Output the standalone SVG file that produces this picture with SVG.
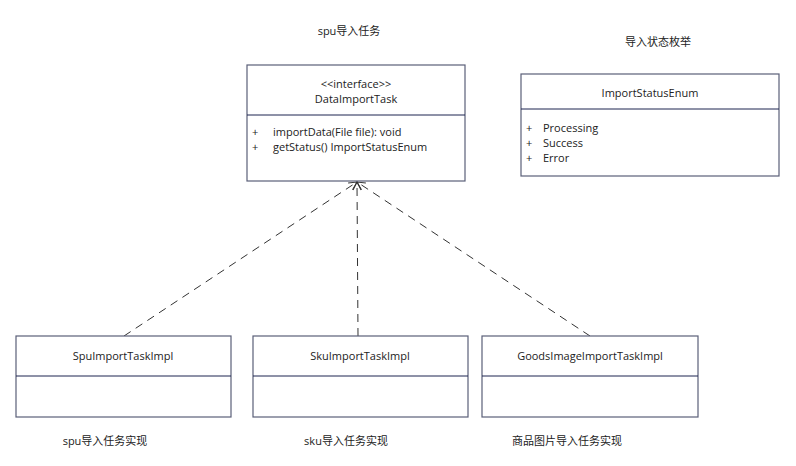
<svg xmlns="http://www.w3.org/2000/svg" width="796" height="466" viewBox="0 0 796 466">
<style>
text{font-family:"Open Sans","Noto Sans","Noto Sans CJK SC",sans-serif;font-size:11px;fill:#222}
.c{text-anchor:middle}
.box{fill:#fff;stroke:#5a5f78;stroke-width:1.2}
.div{stroke:#1c2450;stroke-width:1}
.dash{fill:none;stroke:#333;stroke-width:1;stroke-dasharray:8,6}
</style>
<defs>
<marker id="open" markerWidth="10" markerHeight="10" refX="9" refY="5" orient="auto" markerUnits="userSpaceOnUse">
<path d="M1,1 L9,5 L1,9" fill="none" stroke="#333" stroke-width="1"/>
</marker>
</defs>
<rect width="796" height="466" fill="#fff"/>
<text class="c" x="349" y="35">spu导入任务</text>
<text class="c" x="658" y="46">导入状态枚举</text>
<g id="connectors">
<line class="dash" x1="124" y1="336" x2="357" y2="182" marker-end="url(#open)"/>
<line class="dash" x1="358" y1="336" x2="357" y2="182" marker-end="url(#open)"/>
<line class="dash" x1="590" y1="336" x2="357" y2="182" marker-end="url(#open)"/>
</g>
<g id="DataImportTask">
<rect class="box" x="247" y="65" width="218" height="116"/>
<line class="div" x1="247" y1="115" x2="465" y2="115"/>
<text class="c" x="356" y="88">&lt;&lt;interface&gt;&gt;</text>
<text class="c" x="356" y="103">DataImportTask</text>
<text x="252" y="136">+</text>
<text x="273" y="136">importData(File file): void</text>
<text x="252" y="151">+</text>
<text x="273" y="151">getStatus() ImportStatusEnum</text>
</g>
<g id="ImportStatusEnum">
<rect class="box" x="521" y="74" width="258" height="102"/>
<line class="div" x1="521" y1="109" x2="779" y2="109"/>
<text class="c" x="650" y="97">ImportStatusEnum</text>
<text x="526" y="132">+</text>
<text x="543" y="132">Processing</text>
<text x="526" y="147">+</text>
<text x="543" y="147">Success</text>
<text x="526" y="162">+</text>
<text x="543" y="162">Error</text>
</g>
<g id="SpuImportTaskImpl">
<rect class="box" x="16" y="336" width="215" height="81"/>
<line class="div" x1="16" y1="376" x2="231" y2="376"/>
<text class="c" x="123" y="360">SpuImportTaskImpl</text>
</g>
<g id="SkuImportTaskImpl">
<rect class="box" x="253" y="336" width="215" height="81"/>
<line class="div" x1="253" y1="376" x2="468" y2="376"/>
<text class="c" x="360" y="360">SkuImportTaskImpl</text>
</g>
<g id="GoodsImageImportTaskImpl">
<rect class="box" x="482" y="336" width="216" height="81"/>
<line class="div" x1="482" y1="376" x2="698" y2="376"/>
<text class="c" x="590" y="360">GoodsImageImportTaskImpl</text>
</g>
<text class="c" x="105" y="445">spu导入任务实现</text>
<text class="c" x="346" y="445">sku导入任务实现</text>
<text class="c" x="567" y="445">商品图片导入任务实现</text>
</svg>
